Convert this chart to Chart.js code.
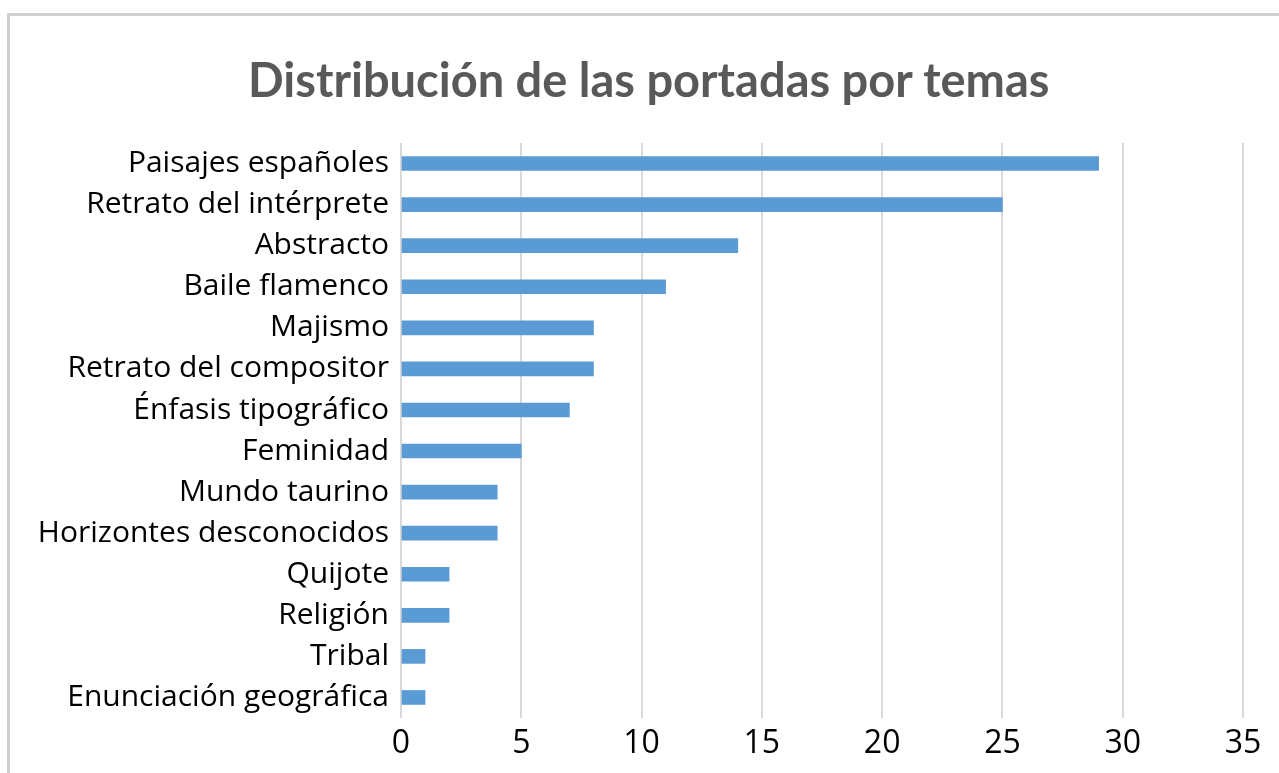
<!DOCTYPE html>
<html>
<head>
<meta charset="utf-8">
<script src="https://cdn.jsdelivr.net/npm/chart.js@4.4.1/dist/chart.umd.min.js"></script>
<style>
  html, body { margin: 0; padding: 0; background: #fff; }
  .frame { position: absolute; left: 7px; top: 13px; width: 1300px; height: 800px;
           border-top: 3px solid #d0d0d0; border-left: 3px solid #d0d0d0; }
  .wrap { position: absolute; left: 0; top: 0; width: 1279px; height: 773px; }
  .title { position: absolute; left: 248px; width: 800px; top: 56px; text-align: center;
           font: bold 47px Lato, "Open Sans", sans-serif; line-height: 47px; color: #595959;
           white-space: nowrap; }
</style>
</head>
<body>
<div class="frame"></div>
<div class="wrap"><canvas id="c"></canvas></div>
<div class="title" id="title"></div>
<script>
const TITLE = "Distribución de las portadas por temas";
const categories = [
  "Paisajes españoles", "Retrato del intérprete", "Abstracto", "Baile flamenco",
  "Majismo", "Retrato del compositor", "Énfasis tipográfico", "Feminidad",
  "Mundo taurino", "Horizontes desconocidos", "Quijote", "Religión",
  "Tribal", "Enunciación geográfica"
];
const counts = [29, 25, 14, 11, 8, 8, 7, 5, 4, 4, 2, 2, 1, 1];
const xMax = 35;
const xStep = 5;

const LABEL_FONT = "'Open Sans', sans-serif";

// title sits a bit right of the canvas centre in the original, so it is placed in html
document.getElementById("title").textContent = TITLE;

new Chart(document.getElementById("c"), {
  type: "bar",
  data: {
    labels: categories,
    datasets: [{ data: counts, backgroundColor: "#5b9bd5", barThickness: 14 }]
  },
  options: {
    indexAxis: "y",
    responsive: true, maintainAspectRatio: false, animation: false,
    layout: { padding: { left: 0, right: 36, top: 143, bottom: 10 } },
    plugins: {
      legend: { display: false },
      tooltip: { enabled: false },
      title: { display: false }
    },
    scales: {
      x: {
        min: 0, max: xMax,
        ticks: { stepSize: xStep, color: "#000", padding: 7, font: { family: LABEL_FONT, size: 32 } },
        grid: { color: "#d9d9d9", lineWidth: 2, drawTicks: false },
        border: { display: false },
        afterFit: (s) => { s.height = 45; }
      },
      y: {
        ticks: { color: "#000", padding: 12, font: { family: LABEL_FONT, size: 30 } },
        grid: { display: false, drawTicks: false },
        border: { display: false },
        afterFit: (s) => { s.width = 401; }
      }
    }
  }
});
</script>
</body>
</html>
